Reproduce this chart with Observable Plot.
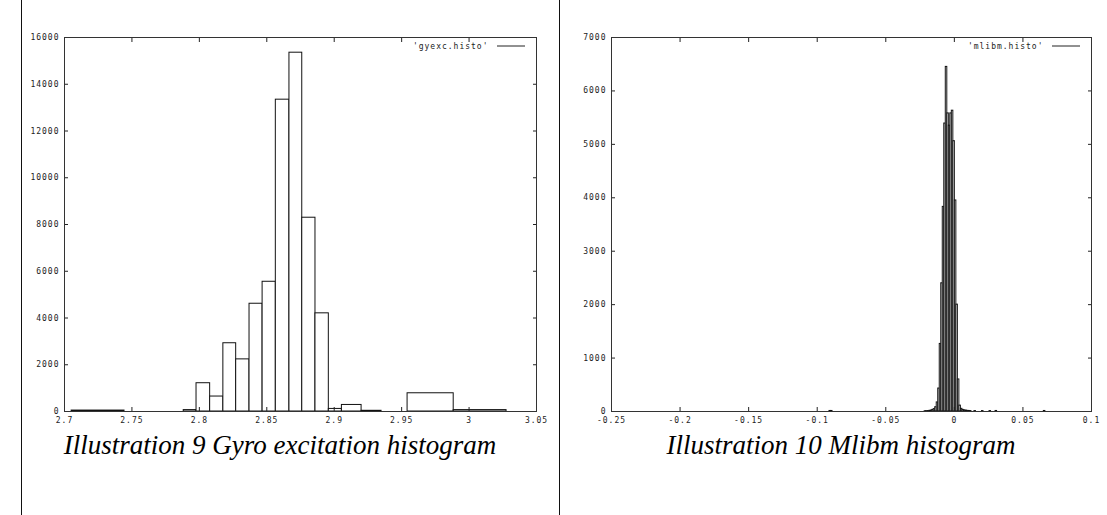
<!DOCTYPE html>
<html>
<head>
<meta charset="utf-8">
<script src="https://cdn.jsdelivr.net/npm/d3@7"></script>
<script src="https://cdn.jsdelivr.net/npm/@observablehq/plot@0.6"></script>
<style>
  html, body { margin: 0; padding: 0; background: #fff; }
  #page { position: relative; width: 1107px; height: 515px; overflow: hidden; background: #fff; }
  .rule { position: absolute; top: 0; width: 1px; height: 515px; background: #111; }
  .chart { position: absolute; top: 0; }
  .caption {
    position: absolute; top: 432px; white-space: nowrap; transform: translateX(-50%);
    font-family: "Liberation Serif", "DejaVu Serif", serif; font-style: italic;
    font-size: 27px; line-height: 1; color: #000;
  }
</style>
</head>
<body>
<div id="page">
  <div class="rule" style="left:21px"></div>
  <div class="rule" style="left:559px"></div>
  <div id="gyro" class="chart" style="left:0px"></div>
  <div id="mlibm" class="chart" style="left:560px"></div>
  <div class="caption" style="left:280px">Illustration 9 Gyro excitation histogram</div>
  <div class="caption" style="left:841px">Illustration 10 Mlibm histogram</div>
</div>
<script>
// ---- Gyro excitation histogram (gyexc.histo): box edges and counts ----
const gyroBinLo = [2.7053, 2.7884, 2.7979, 2.8080, 2.8178, 2.8273, 2.8372, 2.8469, 2.8567,
                   2.8668, 2.8763, 2.8861, 2.8960, 2.9057, 2.9203, 2.9544, 2.9886];
const gyroBinHi = [2.7445, 2.7979, 2.8080, 2.8178, 2.8273, 2.8372, 2.8469, 2.8567, 2.8668,
                   2.8763, 2.8861, 2.8960, 2.9057, 2.9203, 2.9351, 2.9886, 3.0278];
const gyroCounts = [40, 60, 1210, 640, 2920, 2230, 4610, 5550, 13340,
                    15350, 8290, 4200, 110, 280, 30, 780, 60];
const gyroXTicks = [2.7, 2.75, 2.8, 2.85, 2.9, 2.95, 3, 3.05];
const gyroYTicks = [0, 2000, 4000, 6000, 8000, 10000, 12000, 14000, 16000];
const gyroLegend = "'gyexc.histo'";

// ---- Mlibm histogram (mlibm.histo): bin centres, counts, common bin width ----
const mlibmBinWidth = 0.0011;
const mlibmCenters = [
  -0.0905, -0.0894,
  -0.0211, -0.0200, -0.0189, -0.0178, -0.0167, -0.0156, -0.0145, -0.0134, -0.0123,
  -0.0112, -0.0101, -0.0090, -0.0079, -0.0068, -0.0057, -0.0046, -0.0035, -0.0024,
  -0.0013, -0.0002, 0.0009, 0.0020, 0.0031, 0.0042,
  0.0053, 0.0064, 0.0075, 0.0086, 0.0097, 0.0108, 0.0119,
  0.0152, 0.0207, 0.0262, 0.0306, 0.0658
];
const mlibmCounts = [
  10, 10,
  5, 6, 8, 12, 18, 30, 45, 80, 170,
  430, 1265, 2400, 3830, 5390, 6450, 5580, 5350, 5580,
  5630, 5060, 3950, 2000, 600, 110,
  50, 30, 22, 16, 12, 10, 8,
  8, 8, 8, 10, 10
];
const mlibmXTicks = [-0.25, -0.2, -0.15, -0.1, -0.05, 0, 0.05, 0.1];
const mlibmYTicks = [0, 1000, 2000, 3000, 4000, 5000, 6000, 7000];
const mlibmLegend = "'mlibm.histo'";

const ink = "#222";
const fmt = d => String(d);   // plain hyphen-minus, gnuplot style

// Short sample line drawn to the right of the key text, inside the frame.
function keySample(index, scales, values, dims) {
  const xr = dims.width - dims.marginRight;
  const y = dims.marginTop + 9;
  const line = document.createElementNS("http://www.w3.org/2000/svg", "line");
  line.setAttribute("x1", xr - 39);
  line.setAttribute("x2", xr - 11);
  line.setAttribute("y1", y);
  line.setAttribute("y2", y);
  line.setAttribute("stroke", ink);
  line.setAttribute("stroke-width", 1);
  return line;
}

// gnuplot-like frame: ticks pointing inward on all four sides, labels bottom/left.
function frameAxes(xTicks, yTicks) {
  return [
    Plot.axisX(xTicks, {anchor: "bottom", tickSize: 4, dy: -4, tickFormat: () => "", stroke: ink}),
    Plot.axisX(xTicks, {anchor: "top", tickSize: 4, dy: 4, tickFormat: () => "", stroke: ink}),
    Plot.axisY(yTicks, {anchor: "left", tickSize: 4, dx: 4, tickFormat: () => "", stroke: ink}),
    Plot.axisY(yTicks, {anchor: "right", tickSize: 4, dx: -4, tickFormat: () => "", stroke: ink}),
    Plot.axisX(xTicks, {anchor: "bottom", tickSize: 0, tickPadding: 6, tickFormat: fmt, fill: ink, label: null}),
    Plot.axisY(yTicks, {anchor: "left", tickSize: 0, tickPadding: 5, tickFormat: fmt, fill: ink, label: null}),
    Plot.frame({stroke: "#333"})
  ];
}

const style = {
  fontFamily: "'DejaVu Sans Mono', 'Liberation Mono', monospace",
  fontSize: "8px",
  letterSpacing: "1px",
  background: "transparent",
  overflow: "visible"
};

const gyro = Plot.plot({
  width: 560, height: 430,
  marginLeft: 64, marginRight: 24, marginTop: 37, marginBottom: 19,
  style,
  x: {domain: [2.7, 3.05]},
  y: {domain: [0, 16000]},
  marks: [
    Plot.rectY(gyroCounts, {x1: gyroBinLo, x2: gyroBinHi, y: gyroCounts,
      fill: "white", stroke: "#111", strokeWidth: 1}),
    ...frameAxes(gyroXTicks, gyroYTicks),
    Plot.text([gyroLegend], {text: d => d, frameAnchor: "top-right", dx: -48, dy: 9,
      textAnchor: "end", lineAnchor: "middle", fill: ink}),
    keySample
  ]
});
document.getElementById("gyro").appendChild(gyro);

const mlibm = Plot.plot({
  width: 547, height: 430,
  marginLeft: 51, marginRight: 16, marginTop: 37, marginBottom: 19,
  style,
  x: {domain: [-0.25, 0.1]},
  y: {domain: [0, 7000]},
  marks: [
    Plot.rectY(mlibmCounts, {
      x1: mlibmCenters.map(c => c - mlibmBinWidth / 2),
      x2: mlibmCenters.map(c => c + mlibmBinWidth / 2),
      y: mlibmCounts,
      fill: "white", stroke: "#111", strokeWidth: 1}),
    ...frameAxes(mlibmXTicks, mlibmYTicks),
    Plot.text([mlibmLegend], {text: d => d, frameAnchor: "top-right", dx: -48, dy: 9,
      textAnchor: "end", lineAnchor: "middle", fill: ink}),
    keySample
  ]
});
document.getElementById("mlibm").appendChild(mlibm);
</script>
</body>
</html>
